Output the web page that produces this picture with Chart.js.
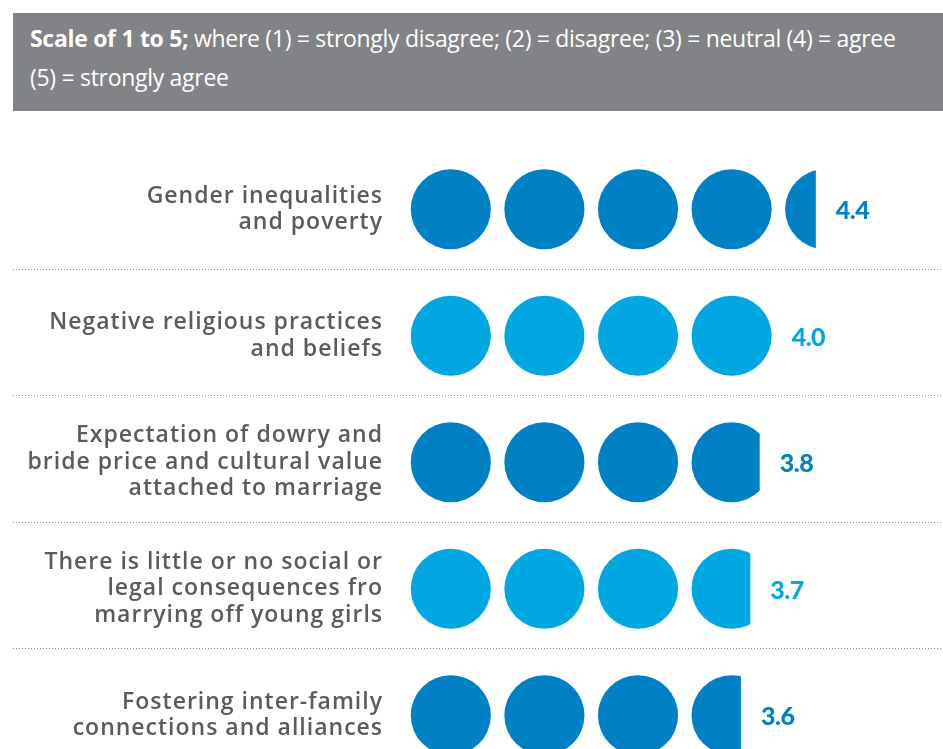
<!DOCTYPE html>
<html>
<head>
<meta charset="utf-8">
<script src="https://cdn.jsdelivr.net/npm/chart.js@4.4.0/dist/chart.umd.min.js"></script>
<style>
  html, body { margin: 0; padding: 0; background: #fff; overflow: hidden; }
  #wrap { position: relative; width: 943px; height: 749px; overflow: hidden; }
  #scaleNote {
    position: absolute; left: 13px; top: 13px; width: 913px; height: 92px;
    padding: 6px 0 0 17px; background: #818386; color: #fff;
    font-family: "Open Sans", sans-serif; font-size: 23px; line-height: 39px;
    letter-spacing: -0.3px;
  }
  #scaleNote b { font-weight: 700; }
  #chart { position: absolute; left: 0; top: 0; }
</style>
</head>
<body>
<div id="wrap">
  <canvas id="chart" width="943" height="818"></canvas>
  <div id="scaleNote"><b>Scale of 1 to 5;</b> where (1) = strongly disagree; (2) = disagree; (3) = neutral (4) = agree<br>(5) = strongly agree</div>
</div>
<script>
// factors, rated on a 1-5 scale
const factors = [
    ['Gender inequalities', 'and poverty'],
    ['Negative religious practices', 'and beliefs'],
    ['Expectation of dowry and', 'bride price and cultural value', 'attached to marriage'],
    ['There is little or no social or', 'legal consequences fro', 'marrying off young girls'],
    ['Fostering inter-family', 'connections and alliances']
];
const scores = [4.4, 4.0, 3.8, 3.7, 3.6];
const scaleMax = 5;

const darkBlue = '#0081C6';
const lightBlue = '#00A7E1';

// wider tracking for the row labels
const labelTracking = {
    id: 'labelTracking',
    beforeDraw(chart) { chart.ctx.letterSpacing = '1px'; },
    afterDraw(chart) { chart.ctx.letterSpacing = '0px'; }
};

// draws the bars as rows of circles, cut at the score
const circleRows = {
    id: 'circleRows',
    afterDatasetsDraw(chart) {
        const ctx = chart.ctx;
        const x = chart.scales.x;
        const y = chart.scales.y;
        const area = chart.chartArea;
        const bars = chart.getDatasetMeta(0).data;

        // dotted separators between rows
        ctx.save();
        ctx.strokeStyle = '#8f8f8f';
        ctx.lineWidth = 1;
        ctx.setLineDash([1, 2]);
        for (let i = 1; i < bars.length; i++) {
            const sy = Math.round((y.getPixelForValue(i - 1) + y.getPixelForValue(i)) / 2 - 4) + 0.5;
            ctx.beginPath();
            ctx.moveTo(13, sy);
            ctx.lineTo(chart.width, sy);
            ctx.stroke();
        }
        ctx.restore();

        bars.forEach(function (bar, i) {
            const value = scores[i];
            const color = i % 2 === 0 ? darkBlue : lightBlue;
            const cell = x.getPixelForValue(1) - x.getPixelForValue(0);
            const r = cell * 0.428;
            const endX = x.getPixelForValue(value);

            ctx.save();
            ctx.beginPath();
            ctx.rect(area.left, bar.y - r - 2, endX - area.left, 2 * r + 4);
            ctx.clip();
            ctx.fillStyle = color;
            for (let k = 0; k < scaleMax; k++) {
                ctx.beginPath();
                ctx.arc(x.getPixelForValue(k + 0.5), bar.y, r, 0, Math.PI * 2);
                ctx.fill();
            }
            ctx.restore();

            const lastCircle = Math.ceil(value) - 0.5;
            const edge = Math.min(endX, x.getPixelForValue(lastCircle) + r);
            ctx.save();
            ctx.letterSpacing = '-0.5px';
            ctx.fillStyle = color;
            ctx.font = '900 25px Lato';
            ctx.textAlign = 'left';
            ctx.textBaseline = 'middle';
            ctx.fillText(value.toFixed(1), edge + 20, bar.y + 2);
            ctx.restore();
        });
    }
};

new Chart(document.getElementById('chart'), {
    type: 'bar',
    data: {
        labels: factors,
        datasets: [{
            data: scores,
            backgroundColor: 'rgba(0,0,0,0)',
            borderWidth: 0
        }]
    },
    options: {
        indexAxis: 'y',
        responsive: false,
        animation: false,
        layout: {
            padding: { top: 146, bottom: 13, right: 71, left: 0 }
        },
        plugins: {
            legend: { display: false },
            tooltip: { enabled: false }
        },
        scales: {
            x: {
                display: false,
                min: 0,
                max: scaleMax
            },
            y: {
                grid: { display: false },
                border: { display: false },
                afterFit: function (scale) { scale.width = 404; },
                ticks: {
                    padding: 13,
                    color: '#5F5A56',
                    font: { family: 'Open Sans', size: 23, weight: '600', lineHeight: 1.15 }
                }
            }
        }
    },
    plugins: [labelTracking, circleRows]
});
</script>
</body>
</html>
